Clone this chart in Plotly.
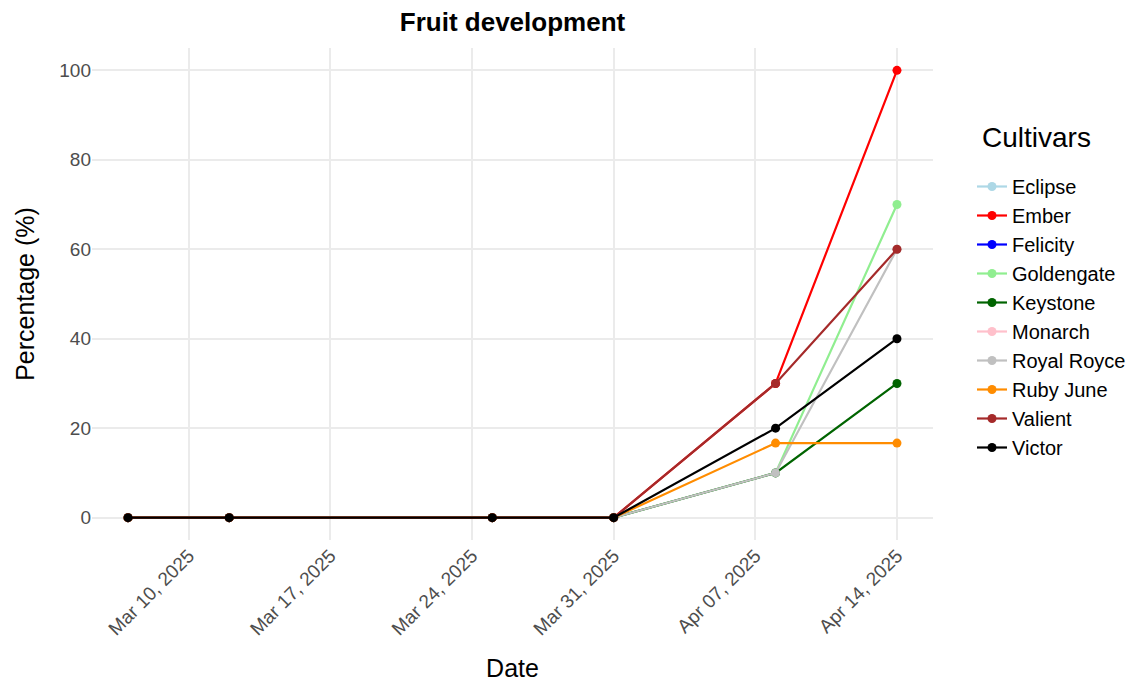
import plotly.graph_objects as go

dates = ["2025-03-07", "2025-03-12", "2025-03-25", "2025-03-31", "2025-04-08", "2025-04-14"]
cultivars = ["Eclipse", "Ember", "Felicity", "Goldengate", "Keystone", "Monarch",
             "Royal Royce", "Ruby June", "Valient", "Victor"]
colors = ["lightblue", "red", "blue", "lightgreen", "darkgreen", "pink",
          "silver", "darkorange", "brown", "black"]
values = {
    "Eclipse":     [0, 0, 0, 0, None, None],
    "Ember":       [0, 0, 0, 0, 30, 100],
    "Felicity":    [0, 0, 0, 0, None, None],
    "Goldengate":  [0, 0, 0, 0, 10, 70],
    "Keystone":    [0, 0, 0, 0, 10, 30],
    "Monarch":     [0, 0, 0, 0, None, None],
    "Royal Royce": [0, 0, 0, 0, 10, 60],
    "Ruby June":   [0, 0, 0, 0, 16.67, 16.67],
    "Valient":     [0, 0, 0, 0, 30, 60],
    "Victor":      [0, 0, 0, 0, 20, 40],
}
tick_dates = ["2025-03-10", "2025-03-17", "2025-03-24", "2025-03-31", "2025-04-07", "2025-04-14"]
y_ticks = [0, 20, 40, 60, 80, 100]

FONT = "Liberation Sans, Arial, sans-serif"
OFF = 8  # default page body margin
W, H = 1147, 683
L, T = 92 - OFF, 48 - OFF
R = W - (933 - OFF)
B = H - (540 - OFF)
PW, PH = W - L - R, H - T - B

fig = go.Figure()
for name, col in zip(cultivars, colors):
    fig.add_trace(go.Scatter(
        x=dates, y=values[name], name=name, mode="lines+markers",
        line=dict(color=col, width=2.2), marker=dict(color=col, size=9),
        connectgaps=False,
    ))

fig.update_layout(
    width=W, height=H,
    paper_bgcolor="white", plot_bgcolor="white",
    margin=dict(l=L, r=R, t=T, b=B, autoexpand=False),
    font=dict(family=FONT, color="black"),
    title=dict(text="<b>Fruit development</b>", x=0.5, xanchor="center",
               xref="paper", y=1 - 5 / H, yanchor="top", yref="container",
               font=dict(size=26, color="black")),
    xaxis=dict(
        type="date", range=["2025-03-05 05:17", "2025-04-15 18:43"],
        tickvals=tick_dates, tickformat="%b %d, %Y", tickangle=-45,
        showgrid=True, gridcolor="#ebebeb", gridwidth=1.5, zeroline=False,
        tickfont=dict(size=19, color="#4d4d4d"),
        title=dict(text="Date", font=dict(size=25, color="black"), standoff=21),
        ticks="", showline=False, automargin=False,
    ),
    yaxis=dict(
        range=[-5, 105], tickvals=y_ticks,
        showgrid=True, gridcolor="#ebebeb", gridwidth=1.5, zeroline=False,
        tickfont=dict(size=19, color="#4d4d4d"),
        title=dict(text="Percentage (%)", font=dict(size=25, color="black"), standoff=17),
        ticks="", showline=False, automargin=False,
    ),
    legend=dict(
        x=(972 - OFF - L) / PW, xanchor="left",
        y=1 - (167 - OFF - T) / PH, yanchor="top",
        font=dict(size=20, color="black"),
        bgcolor="rgba(0,0,0,0)", itemwidth=30,
    ),
    annotations=[dict(
        text="Cultivars", xref="paper", yref="paper",
        x=(980 - OFF - L) / PW, y=1 - (137 - OFF - T) / PH,
        xanchor="left", yanchor="middle", showarrow=False,
        font=dict(size=28, color="black"),
    )],
)

fig.write_html("out.html")
